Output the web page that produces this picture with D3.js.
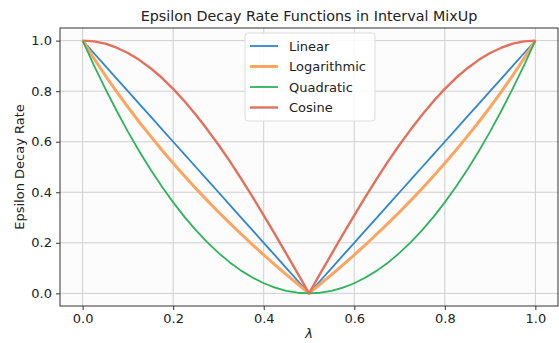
<!DOCTYPE html>
<html>
<head>
<meta charset="utf-8">
<script src="https://cdn.jsdelivr.net/npm/d3@7"></script>
<style>
  body { margin: 0; background: #fff; }
  svg { display: block; font-family: "DejaVu Sans", sans-serif; }
</style>
</head>
<body>
<div id="chart"></div>
<script>
// lambda sample points (step 0.025)
var lambdas = d3.range(41).map(function(i) { return +(i * 0.025).toFixed(3); });

var linearVals = [1, 0.95, 0.9, 0.85, 0.8, 0.75, 0.7, 0.65, 0.6, 0.55, 0.5, 0.45, 0.4, 0.35, 0.3, 0.25, 0.2, 0.15, 0.1, 0.05, 0,
  0.05, 0.1, 0.15, 0.2, 0.25, 0.3, 0.35, 0.4, 0.45, 0.5, 0.55, 0.6, 0.65, 0.7, 0.75, 0.8, 0.85, 0.9, 0.95, 1];

var logVals = [1, 0.93, 0.862, 0.798, 0.737, 0.678, 0.622, 0.567, 0.515, 0.464, 0.415, 0.368, 0.322, 0.278, 0.235, 0.193, 0.152, 0.113, 0.074, 0.037, 0,
  0.037, 0.074, 0.113, 0.152, 0.193, 0.235, 0.278, 0.322, 0.368, 0.415, 0.464, 0.515, 0.567, 0.622, 0.678, 0.737, 0.798, 0.862, 0.93, 1];

var quadVals = [1, 0.9025, 0.81, 0.7225, 0.64, 0.5625, 0.49, 0.4225, 0.36, 0.3025, 0.25, 0.2025, 0.16, 0.1225, 0.09, 0.0625, 0.04, 0.0225, 0.01, 0.0025, 0,
  0.0025, 0.01, 0.0225, 0.04, 0.0625, 0.09, 0.1225, 0.16, 0.2025, 0.25, 0.3025, 0.36, 0.4225, 0.49, 0.5625, 0.64, 0.7225, 0.81, 0.9025, 1];

var cosVals = [1, 0.997, 0.988, 0.972, 0.951, 0.924, 0.891, 0.853, 0.809, 0.76, 0.707, 0.649, 0.588, 0.523, 0.454, 0.383, 0.309, 0.233, 0.156, 0.079, 0,
  0.079, 0.156, 0.233, 0.309, 0.383, 0.454, 0.523, 0.588, 0.649, 0.707, 0.76, 0.809, 0.853, 0.891, 0.924, 0.951, 0.972, 0.988, 0.997, 1];

var seriesNames = ["Linear", "Logarithmic", "Quadratic", "Cosine"];
var seriesVals = [linearVals, logVals, quadVals, cosVals];
var xTicks = [0, 0.2, 0.4, 0.6, 0.8, 1.0];
var yTicks = [0, 0.2, 0.4, 0.6, 0.8, 1.0];

var colors = ["#2e86d1", "#fba561", "#2db35a", "#e3705b"];
var widths = [1.8, 3, 1.8, 2.4];

var W = 559, H = 343;
var margin = { left: 60, right: 1, top: 28, bottom: 37 };

var svg = d3.select("#chart").append("svg")
  .attr("width", W)
  .attr("height", H);

var x = d3.scaleLinear()
  .domain([-0.05, 1.05])
  .range([margin.left, W - margin.right]);

var y = d3.scaleLinear()
  .domain([-0.05, 1.05])
  .range([H - margin.bottom, margin.top]);

// plot background
svg.append("rect")
  .attr("x", x(-0.05)).attr("y", y(1.05))
  .attr("width", x(1.05) - x(-0.05))
  .attr("height", y(-0.05) - y(1.05))
  .attr("fill", "#fcfcfd");

// grid
svg.append("g").selectAll("line")
  .data(xTicks).enter().append("line")
  .attr("x1", function(d) { return x(d); }).attr("x2", function(d) { return x(d); })
  .attr("y1", y(1.05)).attr("y2", y(-0.05))
  .attr("stroke", "#cfcfcf").attr("stroke-width", 1);

svg.append("g").selectAll("line")
  .data(yTicks).enter().append("line")
  .attr("y1", function(d) { return y(d); }).attr("y2", function(d) { return y(d); })
  .attr("x1", x(-0.05)).attr("x2", x(1.05))
  .attr("stroke", "#cfcfcf").attr("stroke-width", 1);

// axes
var axisX = d3.axisBottom(x).tickValues(xTicks).tickFormat(d3.format(".1f")).tickSizeOuter(0).tickSize(4).tickPadding(4);
var axisY = d3.axisLeft(y).tickValues(yTicks).tickFormat(d3.format(".1f")).tickSizeOuter(0).tickSize(4).tickPadding(4);

var gx = svg.append("g")
  .attr("transform", "translate(0," + (H - margin.bottom) + ")")
  .call(axisX);
var gy = svg.append("g")
  .attr("transform", "translate(" + margin.left + ",0)")
  .call(axisY);

[gx, gy].forEach(function(g) {
  g.select(".domain").remove();
  g.selectAll("line").attr("stroke", "#333");
  g.selectAll("text").attr("fill", "#222").style("font-size", "13px").style("font-family", "DejaVu Sans");
});

// lines
var line = d3.line()
  .x(function(d) { return x(d[0]); })
  .y(function(d) { return y(d[1]); });

seriesVals.forEach(function(vals, i) {
  svg.append("path")
    .datum(lambdas.map(function(l, j) { return [l, vals[j]]; }))
    .attr("fill", "none")
    .attr("stroke", colors[i])
    .attr("stroke-width", widths[i])
    .attr("stroke-linejoin", "round")
    .attr("d", line);
});

// frame
svg.append("rect")
  .attr("x", x(-0.05)).attr("y", y(1.05))
  .attr("width", x(1.05) - x(-0.05))
  .attr("height", y(-0.05) - y(1.05))
  .attr("fill", "none")
  .attr("stroke", "#333")
  .attr("stroke-width", 1);

// legend
var lg = svg.append("g").attr("transform", "translate(245,33)");
lg.append("rect")
  .attr("width", 130).attr("height", 88)
  .attr("rx", 3)
  .attr("fill", "#fff").attr("fill-opacity", 0.85)
  .attr("stroke", "#dcdcdc");

seriesNames.forEach(function(name, i) {
  var yy = 13 + i * 20.5;
  lg.append("line")
    .attr("x1", 5).attr("x2", 33)
    .attr("y1", yy).attr("y2", yy)
    .attr("stroke", colors[i])
    .attr("stroke-width", widths[i]);
  lg.append("text")
    .attr("x", 44).attr("y", yy)
    .attr("dy", "0.35em")
    .attr("fill", "#222")
    .style("font-size", "13px")
    .text(name);
});

// title and labels
svg.append("text")
  .attr("x", (x(-0.05) + x(1.05)) / 2)
  .attr("y", 21)
  .attr("text-anchor", "middle")
  .attr("fill", "#222")
  .style("font-size", "14.3px")
  .text("Epsilon Decay Rate Functions in Interval MixUp");

svg.append("text")
  .attr("x", (x(-0.05) + x(1.05)) / 2)
  .attr("y", 338)
  .attr("text-anchor", "middle")
  .attr("fill", "#222")
  .style("font-size", "13px")
  .style("font-style", "italic")
  .text("λ");

svg.append("text")
  .attr("transform", "translate(24," + ((y(-0.05) + y(1.05)) / 2) + ") rotate(-90)")
  .attr("text-anchor", "middle")
  .attr("fill", "#222")
  .style("font-size", "13px")
  .text("Epsilon Decay Rate");
</script>
</body>
</html>
